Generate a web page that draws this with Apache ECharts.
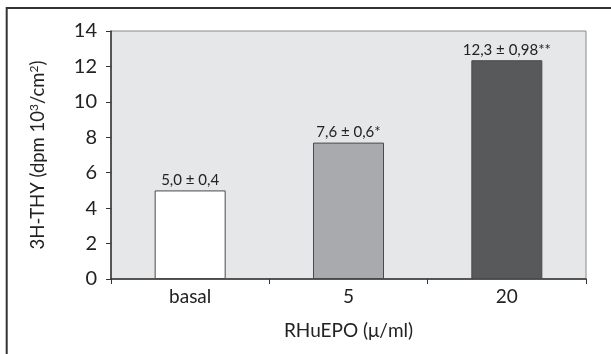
<!DOCTYPE html>
<html>
<head>
<meta charset="utf-8">
<script src="https://cdn.jsdelivr.net/npm/echarts@6/dist/echarts.min.js"></script>
<style>
html,body{margin:0;padding:0;background:#fff;}
#chart{width:611px;height:354px;}
</style>
</head>
<body>
<div id="chart"></div>
<script>
var categories = ['basal', '5', '20'];
var values = [5.0, 7.7, 12.35];
var valueLabels = ['5,0 ± 0,4', '7,6 ± 0,6*', '12,3 ± 0,98**'];
var barColors = ['#ffffff', '#a9aaad', '#58595b'];
var yTicks = {min: 0, max: 14, interval: 2};

var FONT = 'Lato, "Open Sans", sans-serif';
var chart = echarts.init(document.getElementById('chart'), null, {renderer: 'canvas'});

var option = {
  animation: false,
  backgroundColor: '#ffffff',
  grid: {
    left: 111, top: 31, right: 25, bottom: 75,
    show: true, backgroundColor: '#e6e7e9', borderColor: '#8a8a8a', borderWidth: 1
  },
  xAxis: {
    type: 'category',
    data: categories,
    name: 'RHuEPO (μ/ml)',
    nameLocation: 'middle',
    nameGap: 42,
    nameTextStyle: {fontFamily: FONT, fontSize: 19, color: '#222'},
    axisLine: {lineStyle: {color: '#333', width: 1.5}},
    axisTick: {show: true, length: 5, alignWithLabel: false, lineStyle: {color: '#333'}},
    axisLabel: {fontFamily: FONT, fontSize: 19, color: '#222', margin: 8}
  },
  yAxis: {
    type: 'value',
    min: yTicks.min, max: yTicks.max, interval: yTicks.interval,
    name: '3H-THY (dpm 10{sup|3}/cm{sup|2})',
    nameLocation: 'middle',
    nameRotate: 90,
    nameGap: 63,
    nameTextStyle: {
      fontFamily: FONT, fontSize: 18.5, color: '#222',
      rich: {sup: {fontFamily: FONT, fontSize: 12, color: '#222', verticalAlign: 'top', padding: [0, 0, 8, 0]}}
    },
    axisLine: {show: true, lineStyle: {color: '#333', width: 1.5}},
    axisTick: {show: true, length: 5, lineStyle: {color: '#333'}},
    splitLine: {show: false},
    axisLabel: {fontFamily: FONT, fontSize: 20, color: '#222', margin: 14}
  },
  series: [{
    type: 'bar',
    barWidth: 71,
    data: values.map(function (v, i) {
      return {value: v, itemStyle: {color: barColors[i]}};
    }),
    itemStyle: {borderColor: '#4a4a4a', borderWidth: 1},
    label: {
      show: true, position: 'top', distance: 3,
      fontFamily: FONT, fontSize: 15, color: '#222',
      formatter: function (p) { return valueLabels[p.dataIndex]; }
    }
  }],
  graphic: [
    {type: 'line', shape: {x1: 6, y1: 8, x2: 611, y2: 8}, style: {stroke: '#333', lineWidth: 2}},
    {type: 'line', shape: {x1: 6.7, y1: 7, x2: 6.7, y2: 354}, style: {stroke: '#333', lineWidth: 2}}
  ]
};
chart.setOption(option);
</script>
</body>
</html>
